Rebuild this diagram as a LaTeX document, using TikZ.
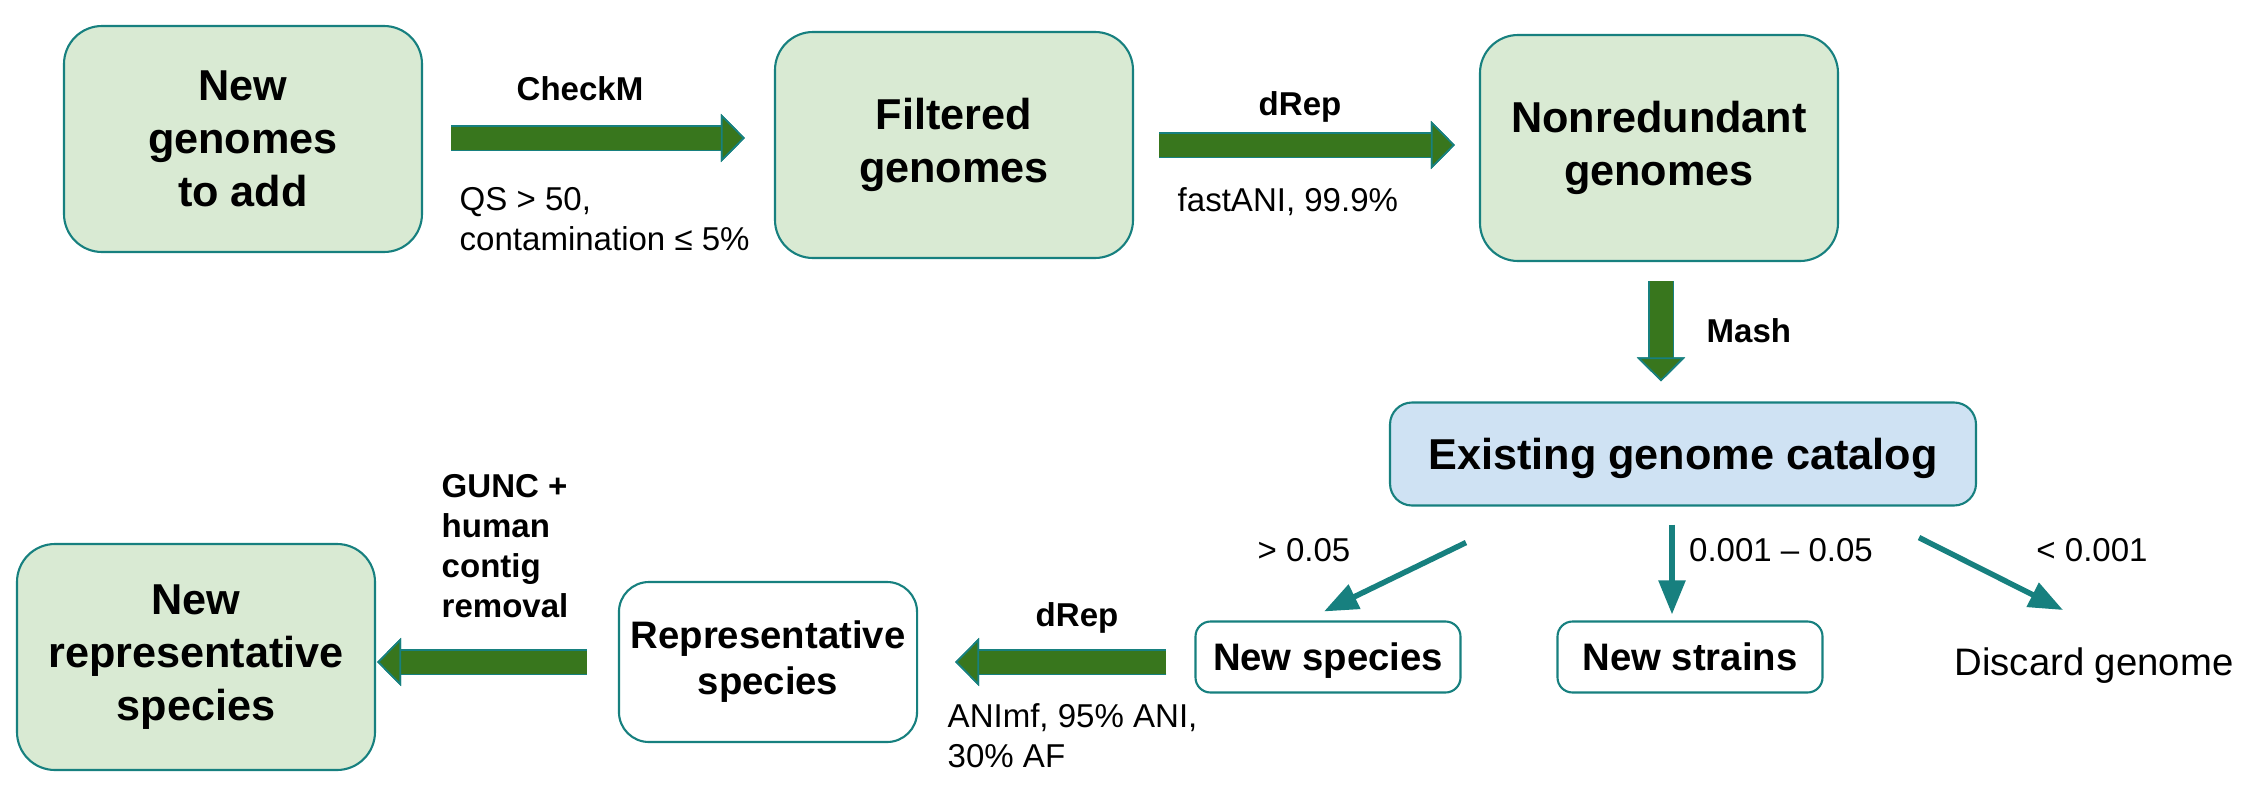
\documentclass[tikz,border=0pt]{standalone}
\usepackage{xcolor}
\usepackage{fontspec}
\setmainfont{Liberation Sans}
\usepackage{tikz}
\usetikzlibrary{arrows.meta,calc}

\definecolor{boxgreen}{HTML}{D9EAD3}
\definecolor{boxblue}{HTML}{CFE2F3}
\definecolor{edgeteal}{HTML}{17807F}
\definecolor{fatgreen}{HTML}{38761D}

\begin{document}
\begin{tikzpicture}[x=0.1mm,y=-0.1mm,
    bigbox/.style={draw=edgeteal, line width=0.6pt, fill=boxgreen, rounded corners=0.38cm,
        minimum width=3.58cm, minimum height=2.26cm, align=center,
        font=\fontsize{12.3}{15}\selectfont\bfseries},
    catbox/.style={bigbox, fill=boxblue, rounded corners=0.22cm,
        minimum width=5.86cm, minimum height=1.03cm, text depth=0pt},
    repbox/.style={bigbox, fill=white, rounded corners=0.3cm,
        minimum width=2.95cm, minimum height=1.6cm,
        font=\fontsize{10.9}{13.1}\selectfont\bfseries},
    smallbox/.style={repbox, rounded corners=0.15cm,
        minimum width=2.65cm, minimum height=0.71cm, text depth=0pt},
    lab/.style={inner sep=0pt, align=left, font=\fontsize{9.4}{11.4}\selectfont},
    boldlab/.style={lab, font=\fontsize{9.4}{11.4}\selectfont\bfseries},
    fatarrow/.style={draw=fatgreen, line width=0.23cm,
        -{Triangle[length=0.24cm, width=0.48cm, line width=0.5pt, color=edgeteal, fill=fatgreen]},
        preaction={draw=edgeteal, line width=0.26cm,
        -{Triangle[length=0.24cm, width=0.48cm, line width=0.5pt, color=edgeteal, fill=fatgreen]}}},
    thinarrow/.style={draw=edgeteal, line width=0.055cm,
        -{Triangle[length=0.34cm, width=0.26cm]}}]
    \useasboundingbox (0,0) rectangle (2252,790);

    % Top row
    \node[bigbox] (newg) at (243,139) {New\\genomes\\to add};
    \node[bigbox] (filt) at (954,145) {Filtered\\genomes};
    \node[bigbox] (nonred) at (1659,148) {Nonredundant\\genomes};

    % Catalog and its outcomes
    \node[catbox] (cat) at (1683,454) {Existing genome catalog};
    \node[smallbox] (nsp) at (1328,657) {New species};
    \node[smallbox] (nst) at (1690,657) {New strains};
    \node[lab, text depth=0pt, font=\fontsize{10.9}{13.1}\selectfont] (disc) at (2094,662) {Discard genome};

    % Bottom row
    \node[repbox] (rep) at (768,662) {Representative\\species};
    \node[bigbox] (nrep) at (196,657) {New\\representative\\species};

    % Fat arrows
    \draw[fatarrow] ($(newg.east)+(28,-1)$) -- ($(filt.west)+(-29,-7)$);
    \draw[fatarrow] ($(filt.east)+(25,0)$) -- ($(nonred.west)+(-24,-3)$);
    \draw[fatarrow] ($(nonred.south)+(2,19)$) -- ($(cat.north)+(-22,-20)$);
    \draw[fatarrow] ($(nsp.west)+(-28,5)$) -- ($(rep.east)+(37,0)$);
    \draw[fatarrow] ($(rep.west)+(-31,0)$) -- ($(nrep.east)+(1,5)$);

    % Thin arrows
    \draw[thinarrow] ($(cat.south)+(-217,36)$) -- ($(nsp.north)+(-4,-9)$);
    \draw[thinarrow] ($(cat.south)+(-11,18)$) -- ($(nst.north)+(-18,-6)$);
    \draw[thinarrow] ($(cat.south)+(236,31)$) -- ($(disc.center)+(-31,-52)$);

    % Labels on the arrows
    \node[boldlab] (checkm) at (580,89) {CheckM};
    \node[lab, anchor=west] (qs) at (459,219) {QS > 50,\\contamination ≤ 5\%};
    \node[boldlab] (drepa) at (1300,107) {dRep};
    \node[lab, anchor=west] (fani) at (1177,202) {fastANI, 99.9\%};
    \node[boldlab, anchor=west] (mash) at (1706,331) {Mash};
    \node[lab] (gt) at (1304,550) {> 0.05};
    \node[lab] (mid) at (1781,550) {0.001 – 0.05};
    \node[lab] (lt) at (2092,550) {< 0.001};
    \node[boldlab] (drepb) at (1077,618) {dRep};
    \node[lab, anchor=west] (animf) at (947,736) {ANImf, 95\% ANI,\\30\% AF};
    \node[boldlab, anchor=west] (gunc) at (441,546) {GUNC +\\human\\contig\\removal};
\end{tikzpicture}
\end{document}
